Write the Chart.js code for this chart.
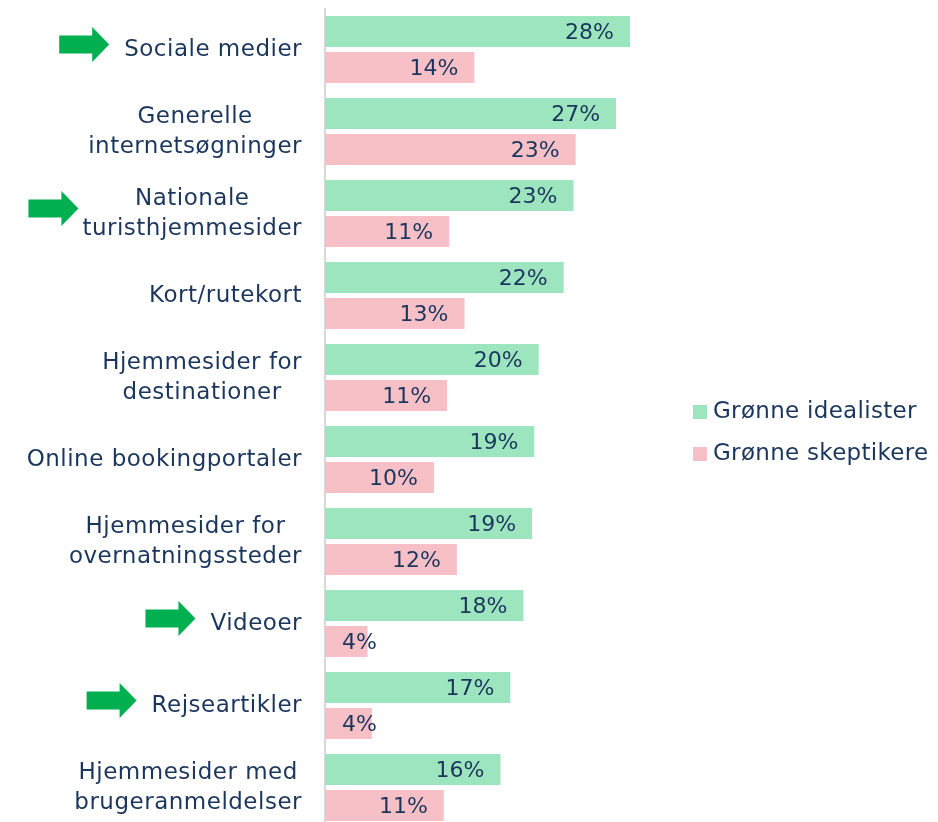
<!DOCTYPE html>
<html>
<head>
<meta charset="utf-8">
<script src="https://cdn.jsdelivr.net/npm/chart.js@4/dist/chart.umd.min.js"></script>
<style>
  html, body { margin: 0; padding: 0; background: #fff; overflow: hidden; }
  #wrap { position: relative; width: 938px; height: 830px; }
</style>
</head>
<body>
<div id="wrap"><canvas id="chart"></canvas></div>
<script>
// --- Data ---
const categories = [
  ['Sociale medier'],
  ['Generelle', 'internetsøgninger'],
  ['Nationale', 'turisthjemmesider'],
  ['Kort/rutekort'],
  ['Hjemmesider for', 'destinationer'],
  ['Online bookingportaler'],
  ['Hjemmesider for', 'overnatningssteder'],
  ['Videoer'],
  ['Rejseartikler'],
  ['Hjemmesider med', 'brugeranmeldelser']
]
const seriesNames = ['Grønne idealister', 'Grønne skeptikere']
const idealister = [27.98, 26.7, 22.8, 21.9, 19.6, 19.2, 19.0, 18.2, 17.0, 16.1]
const skeptikere = [13.7, 23.0, 11.4, 12.8, 11.2, 10.0, 12.1, 3.9, 4.3, 10.9]
// rows marked with a green arrow in the original
const arrowRows = [0, 2, 7, 8]

const GREEN = '#9de5bf'
const PINK = '#f7bfc6'
const TEXT = '#1b365d'
const ARROW = '#00b050'
const FONT = '"DejaVu Sans", sans-serif'

// --- Labels, arrows, value labels and legend ---
const decor = {
  id: 'decor',
  afterDraw(chart) {
    const { ctx, chartArea } = chart
    const yScale = chart.scales.y
    ctx.save()
    ctx.fillStyle = TEXT
    ctx.textBaseline = 'middle'

    // category labels: block right-aligned, lines centred to each other
    ctx.font = '23px ' + FONT
    ctx.letterSpacing = '0.5px'
    categories.forEach((lines, i) => {
      const y = yScale.getPixelForValue(i) + 1
      const maxW = Math.max(...lines.map(l => ctx.measureText(l).width))
      const right = chartArea.left - 23
      const cx = right - maxW / 2
      ctx.textAlign = 'center'
      ctx.fillStyle = TEXT
      lines.forEach((line, j) => {
        ctx.fillText(line, cx, y + (j - (lines.length - 1) / 2) * 30)
      })

      if (arrowRows.includes(i)) {
        const ax = right - maxW - (lines.length > 1 ? 4 : 15)
        const cy = y - 6
        ctx.fillStyle = ARROW
        ctx.beginPath()
        ctx.moveTo(ax - 50, cy - 9)
        ctx.lineTo(ax - 17, cy - 9)
        ctx.lineTo(ax - 17, cy - 17.5)
        ctx.lineTo(ax, cy)
        ctx.lineTo(ax - 17, cy + 17.5)
        ctx.lineTo(ax - 17, cy + 9)
        ctx.lineTo(ax - 50, cy + 9)
        ctx.closePath()
        ctx.fill()
      }
    })

    // value labels inside bar end
    ctx.font = '22px ' + FONT
    ctx.letterSpacing = '0px'
    ctx.fillStyle = TEXT
    ctx.textAlign = 'left'
    chart.data.datasets.forEach((ds, d) => {
      chart.getDatasetMeta(d).data.forEach((bar, i) => {
        const text = Math.round(ds.data[i]) + '%'
        const w = ctx.measureText(text).width
        const x = Math.max(bar.x - 16 - w, bar.base + 17)
        ctx.fillText(text, x, bar.y + 2)
      })
    })

    // legend
    ctx.font = '23px ' + FONT
    ctx.letterSpacing = '0.3px'
    chart.data.datasets.forEach((ds, d) => {
      const cy = 412 + d * 42
      ctx.fillStyle = ds.backgroundColor
      ctx.fillRect(693, cy - 7, 14, 14)
      ctx.fillStyle = TEXT
      ctx.fillText(ds.label, 713, cy)
    })
    ctx.restore()
  }
}

new Chart(document.getElementById('chart'), {
  type: 'bar',
  data: {
    labels: categories,
    datasets: [
      { label: seriesNames[0], data: idealister, backgroundColor: GREEN },
      { label: seriesNames[1], data: skeptikere, backgroundColor: PINK }
    ]
  },
  options: {
    indexAxis: 'y',
    responsive: true,
    maintainAspectRatio: false,
    animation: false,
    categoryPercentage: 0.878,
    barPercentage: 0.861,
    layout: { padding: { top: 8.5, bottom: 1.5, left: 0, right: 286 } },
    scales: {
      x: { display: false, min: 0, max: 30 },
      y: {
        afterFit: scale => { scale.width = 325 },
        ticks: { display: false },
        grid: { display: false, drawTicks: false },
        border: { display: true, color: '#d9d9d9', width: 2 }
      }
    },
    plugins: {
      legend: { display: false },
      tooltip: { enabled: false }
    }
  },
  plugins: [decor]
})
</script>
</body>
</html>
